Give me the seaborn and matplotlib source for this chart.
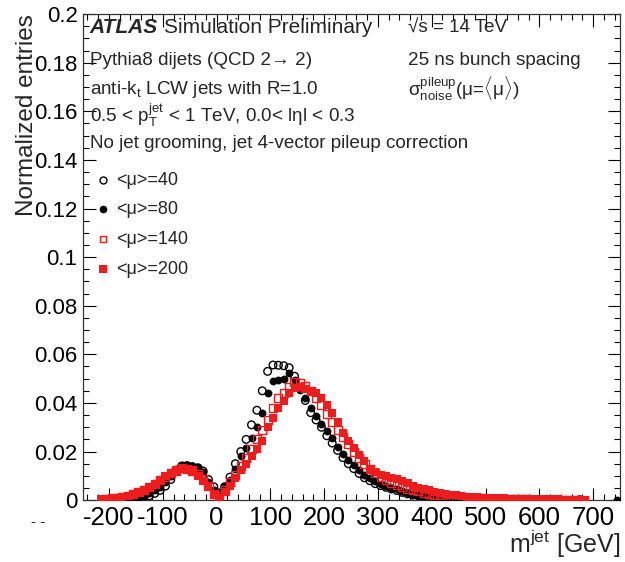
import numpy as np
import pandas as pd
import matplotlib
matplotlib.use("Agg")
import matplotlib.pyplot as plt
import seaborn as sns
from matplotlib.ticker import MultipleLocator

# ---------------- data ----------------
centers = [-215, -205, -195, -185, -175, -165, -155, -145, -135, -125,
           -115, -105, -95, -85, -75, -65, -55, -45, -35, -25,
           -15, -5, 5, 15, 25, 35, 45, 55, 65, 75,
           85, 95, 105, 115, 125, 135, 145, 155, 165, 175,
           185, 195, 205, 215, 225, 235, 245, 255, 265, 275,
           285, 295, 305, 315, 325, 335, 345, 355, 365, 375,
           385, 395, 405, 415, 425, 435, 445, 455, 465, 475,
           485, 495, 505, 515, 525, 535, 545, 555, 565, 575,
           585, 595, 605, 615, 625, 635, 645, 655, 665, 675,
           685, 695, 705, 715, 725, 735, 745]

mu40 = [0, 0, 0, 0, 0, 0.0002, 0.0005, 0.0008, 0.0012, 0.0018,
        0.0028, 0.0040, 0.0058, 0.0085, 0.0118, 0.0140, 0.0142, 0.0138, 0.0133, 0.0120,
        0.0085, 0.0055, 0.0030, 0.0055, 0.0095, 0.0150, 0.0200, 0.0250, 0.0310, 0.0370,
        0.0450, 0.0530, 0.0556, 0.0555, 0.0553, 0.0545, 0.0510, 0.0460, 0.0410, 0.0360,
        0.0330, 0.0300, 0.0265, 0.0235, 0.0205, 0.0175, 0.0150, 0.0130, 0.0110, 0.0092,
        0.0080, 0.0068, 0.0060, 0.0053, 0.0046, 0.0040, 0.0032, 0.0026, 0.0021, 0.0018,
        0.0015, 0.0013, 0.0011, 0.0010, 0.0008, 0.0007, 0.0006, 0.0005, 0.0005, 0.0004,
        0.0003, 0.0003, 0.0002, 0.0002, 0.0002, 0.0001, 0.0001, 0.0001, 0.0001, 0.0001,
        0, 0, 0, 0.0001, 0, 0, 0, 0, 0, 0.0002,
        0, 0, 0, 0, 0, 0, 0]

mu80 = [0, 0, 0, 0.0002, 0.0004, 0.0006, 0.0008, 0.0012, 0.0018, 0.0028,
        0.0040, 0.0055, 0.0075, 0.0100, 0.0128, 0.0145, 0.0143, 0.0140, 0.0135, 0.0115,
        0.0075, 0.0040, 0.0030, 0.0060, 0.0085, 0.0130, 0.0180, 0.0215, 0.0255, 0.0300,
        0.0360, 0.0440, 0.0490, 0.0495, 0.0500, 0.0525, 0.0495, 0.0455, 0.0420, 0.0380,
        0.0345, 0.0315, 0.0285, 0.0255, 0.0220, 0.0190, 0.0165, 0.0145, 0.0125, 0.0105,
        0.0090, 0.0078, 0.0068, 0.0060, 0.0052, 0.0046, 0.0038, 0.0030, 0.0026, 0.0022,
        0.0019, 0.0016, 0.0014, 0.0012, 0.0010, 0.0009, 0.0008, 0.0007, 0.0006, 0.0005,
        0.0004, 0.0004, 0.0003, 0.0003, 0.0002, 0.0002, 0.0002, 0.0001, 0.0001, 0.0001,
        0.0001, 0.0001, 0, 0.0004, 0, 0, 0, 0, 0, 0,
        0, 0, 0, 0, 0, 0, 0.0002]

mu140 = [0, 0.0006, 0.0008, 0.0010, 0.0013, 0.0018, 0.0025, 0.0033, 0.0043, 0.0055,
         0.0068, 0.0082, 0.0096, 0.0110, 0.0122, 0.0132, 0.0130, 0.0122, 0.0108, 0.0088,
         0.0058, 0.0025, 0.0015, 0.0040, 0.0075, 0.0105, 0.0140, 0.0175, 0.0210, 0.0250,
         0.0290, 0.0330, 0.0380, 0.0420, 0.0440, 0.0465, 0.0485, 0.0480, 0.0470, 0.0450,
         0.0420, 0.0390, 0.0355, 0.0320, 0.0290, 0.0260, 0.0230, 0.0200, 0.0175, 0.0150,
         0.0130, 0.0110, 0.0095, 0.0082, 0.0072, 0.0064, 0.0056, 0.0048, 0.0042, 0.0036,
         0.0031, 0.0027, 0.0023, 0.0020, 0.0017, 0.0015, 0.0013, 0.0011, 0.0010, 0.0009,
         0.0008, 0.0007, 0.0006, 0.0005, 0.0005, 0.0004, 0.0004, 0.0003, 0.0003, 0.0003,
         0.0002, 0.0002, 0.0002, 0.0002, 0.0001, 0.0001, 0.0001, 0.0001, 0.0001, 0.0002,
         0, 0, 0, 0, 0, 0, 0]

mu200 = [0.0003, 0.0005, 0.0007, 0.0010, 0.0012, 0.0016, 0.0022, 0.0030, 0.0042, 0.0055,
         0.0068, 0.0082, 0.0098, 0.0112, 0.0125, 0.0130, 0.0128, 0.0120, 0.0100, 0.0080,
         0.0055, 0.0020, 0.0010, 0.0035, 0.0060, 0.0090, 0.0125, 0.0150, 0.0180, 0.0210,
         0.0245, 0.0300, 0.0340, 0.0380, 0.0410, 0.0440, 0.0462, 0.0465, 0.0458, 0.0450,
         0.0440, 0.0420, 0.0390, 0.0360, 0.0320, 0.0275, 0.0245, 0.0215, 0.0185, 0.0160,
         0.0130, 0.0115, 0.0105, 0.0098, 0.0092, 0.0088, 0.0080, 0.0070, 0.0058, 0.0052,
         0.0045, 0.0040, 0.0034, 0.0030, 0.0026, 0.0023, 0.0020, 0.0017, 0.0015, 0.0013,
         0.0012, 0.0010, 0.0009, 0.0008, 0.0007, 0.0007, 0.0006, 0.0005, 0.0005, 0.0004,
         0.0004, 0.0004, 0.0003, 0.0003, 0.0003, 0.0003, 0.0002, 0.0002, 0.0002, 0.0002,
         0.0002, 0, 0, 0, 0, 0, 0]

series_labels = ["<μ>=40", "<μ>=80", "<μ>=140", "<μ>=200"]
x_ticks = [-200, -100, 0, 100, 200, 300, 400, 500, 600, 700]
y_ticks = [0, 0.02, 0.04, 0.06, 0.08, 0.1, 0.12, 0.14, 0.16, 0.18, 0.2]
y_tick_labels = ["0", "0.02", "0.04", "0.06", "0.08", "0.1", "0.12", "0.14", "0.16", "0.18", "0.2"]

# ---------------- style ----------------
sns.set_style("ticks")
plt.rcParams["font.family"] = ["Liberation Sans", "DejaVu Sans"]
plt.rcParams["mathtext.fontset"] = "custom"
plt.rcParams["mathtext.rm"] = "Liberation Sans"
plt.rcParams["mathtext.it"] = "Liberation Sans:italic"
plt.rcParams["mathtext.sf"] = "Liberation Sans"

RED = "#ee1c1c"

fig = plt.figure(figsize=(6.25, 5.62), dpi=100)
ax = fig.add_axes([0.133, 0.110, 0.859, 0.865])

df = pd.DataFrame({"m": centers, "40": mu40, "80": mu80, "140": mu140, "200": mu200})

styles = [
    ("40", dict(marker="o", facecolors="none", edgecolors="black", linewidths=1.0, s=30)),
    ("80", dict(marker="o", color="black", edgecolor="black", linewidth=0, s=32)),
    ("140", dict(marker="s", facecolors="none", edgecolors=RED, linewidths=1.0, s=34)),
    ("200", dict(marker="s", color=RED, edgecolor=RED, linewidth=0, s=40)),
]
for key, kw in styles:
    sub = df[df[key] > 0]
    sns.scatterplot(data=sub, x="m", y=key, ax=ax, legend=False, zorder=3, **kw)

ax.set_xlim(-248, 750)
ax.set_ylim(0, 0.2)
ax.set_xticks(x_ticks)
ax.set_xticklabels([str(t) for t in x_ticks])
ax.set_yticks(y_ticks)
ax.set_yticklabels(y_tick_labels)
ax.xaxis.set_minor_locator(MultipleLocator(20))
ax.yaxis.set_minor_locator(MultipleLocator(0.005))
ax.tick_params(which="both", direction="in", top=True, right=True, colors="black")
ax.tick_params(axis="x", labelsize=18.5, pad=4)
ax.tick_params(axis="y", labelsize=16, pad=4)
ax.tick_params(which="major", length=9, width=0.8)
ax.tick_params(which="minor", length=4.5, width=0.8)
for sp in ax.spines.values():
    sp.set_linewidth(0.9)
    sp.set_color("#333333")

ax.set_xlabel("")
ax.set_ylabel("")
fig.text(0.992, 0.004, r"m$^{\mathrm{jet}}$ [GeV]", ha="right", va="bottom", fontsize=18)
fig.text(0.043, 0.975, "Normalized entries", rotation=90, ha="center", va="top", fontsize=17.5)

# header texts (positions in figure pixels from top, converted to axes fraction)
ax_top, ax_bot = 14.0, 500.0
def ay(py):
    return (ax_bot - py) / (ax_bot - ax_top)

fs = 13.6
x0 = 0.012
t_atlas = ax.text(x0, ay(27), "ATLAS", transform=ax.transAxes, fontsize=15, fontweight="bold",
                  fontstyle="italic", va="center", ha="left")
fig.canvas.draw()
bb = t_atlas.get_window_extent(renderer=fig.canvas.get_renderer())
xa = ax.transAxes.inverted().transform((bb.x1 + 6, bb.y0))[0]
ax.text(xa, ay(27), "Simulation Preliminary", transform=ax.transAxes, fontsize=15,
        va="center", ha="left")
ax.text(x0, ay(60), "Pythia8 dijets (QCD 2→ 2)", transform=ax.transAxes,
        fontsize=fs, va="center", ha="left")
ax.text(x0, ay(89), r"anti-k$_{\mathrm{t}}$ LCW jets with R=1.0", transform=ax.transAxes,
        fontsize=fs, va="center", ha="left")
ax.text(x0, ay(115), r"0.5 < p$_{\mathrm{T}}^{\mathrm{jet}}$ < 1 TeV, 0.0< lηl < 0.3",
        transform=ax.transAxes, fontsize=fs, va="center", ha="left")
ax.text(x0, ay(143), "No jet grooming, jet 4-vector pileup correction", transform=ax.transAxes,
        fontsize=fs, va="center", ha="left")
xr = 0.605
ax.text(xr, ay(28), "√s = 14 TeV", transform=ax.transAxes, fontsize=fs,
        va="center", ha="left")
ax.text(xr, ay(60), "25 ns bunch spacing", transform=ax.transAxes, fontsize=fs,
        va="center", ha="left")
ax.text(xr, ay(89), r"σ$_{\mathrm{noise}}^{\mathrm{pileup}}$(μ=$\langle$μ$\rangle$)",
        transform=ax.transAxes, fontsize=fs, va="center", ha="left")

# legend (ROOT-like, manual entries)
leg_py = [180, 209, 239, 269]
leg_styles = [
    dict(marker="o", mfc="none", mec="black", mew=1.0, ms=5),
    dict(marker="o", mfc="black", mec="black", mew=0, ms=5.5),
    dict(marker="s", mfc="none", mec=RED, mew=1.0, ms=5),
    dict(marker="s", mfc=RED, mec=RED, mew=0, ms=5.5),
]
for py, lab, st in zip(leg_py, series_labels, leg_styles):
    ax.plot([(103 - 83) / 537.0], [ay(py)], transform=ax.transAxes, ls="none", clip_on=False, **st)
    ax.text((116 - 83) / 537.0, ay(py), lab, transform=ax.transAxes, fontsize=13,
            va="center", ha="left")

fig.text(0.05, 0.072, "- -", fontsize=11, ha="left", va="center")

fig.savefig("out.png", dpi=100)
